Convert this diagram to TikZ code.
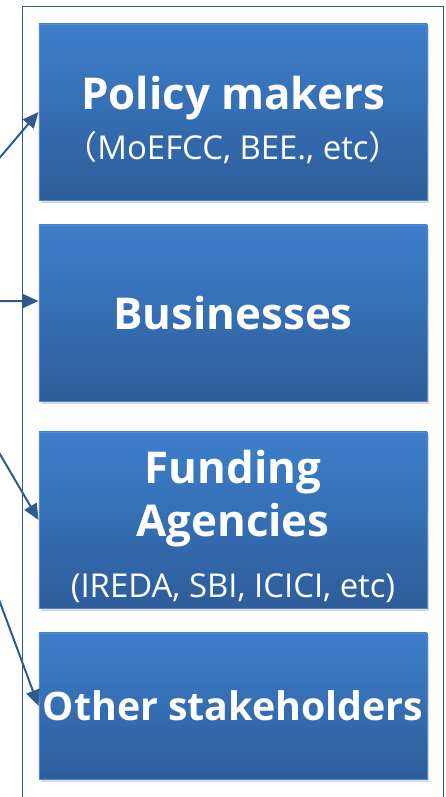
\documentclass[tikz,border=0pt]{standalone}
\usepackage{fontspec}
\setmainfont{Open Sans}
\newfontfamily\cjk{Noto Sans CJK SC}
\definecolor{cardtop}{RGB}{61,127,203}
\definecolor{cardbot}{RGB}{45,93,155}
\definecolor{cardedge}{RGB}{88,138,198}
\definecolor{linkblue}{RGB}{48,90,142}
\definecolor{frameblue}{RGB}{52,86,132}
\usetikzlibrary{arrows.meta, shadows}

\begin{document}
\begin{tikzpicture}[
        outer/.style={
            draw=frameblue,
            line width=1.4pt
          },
        card/.style={
            draw=cardedge,
            line width=0.6pt,
            top color=cardtop,
            bottom color=cardbot,
            minimum width=10.27cm,
            inner xsep=0pt,
            text=white,
            align=center,
            font=\fontsize{33}{41}\selectfont\bfseries,
            drop shadow={opacity=0.3, shadow xshift=1.5pt, shadow yshift=-2.5pt}
          },
        arr/.style={-{Triangle[length=12pt, width=10.5pt]}, linkblue, line width=1.5pt}
      ]
      \useasboundingbox (0,0) rectangle (11.80,21.087);
      \clip (0,0) rectangle (11.80,21.087);

      % frame round the four groups, open at the bottom
      \draw[outer] (0.595,-0.3) -- (0.595,20.915) -- (11.734,20.915) -- (11.734,-0.3);

      \node[card, minimum height=4.657cm] (policy) at (6.165,18.124)
        {\rule{0pt}{37pt}Policy makers\\[-4pt]{\fontsize{24.75}{30}\selectfont\mdseries{\cjk （}MoEFCC, BEE., etc{\cjk ）}}};
      \node[card, minimum height=4.657cm] (business) at (6.165,12.806) {Businesses};
      \node[card, minimum height=4.657cm] (funding) at (6.165,7.329)
        {\rule{0pt}{35pt}Funding\\[-1pt]Agencies\\[5pt]{\fontsize{24.75}{30}\selectfont\mdseries (IREDA, SBI, ICICI, etc)}};
      \node[card, minimum height=3.863cm, font=\fontsize{29.6}{37}\selectfont\bfseries] (others) at (6.165,2.408) {Other stakeholders};

      % links coming in from the left
      \coordinate (src1) at (-0.53,16.30);
      \coordinate (src2) at (-0.53,13.123);
      \coordinate (src3) at (-0.53,9.975);
      \coordinate (src4) at (-0.53,6.575);

      \draw[arr] (src1) -- (policy.west);
      \draw[arr] (src2) -- ([yshift=9pt]business.west);
      \draw[arr] (src3) -- (funding.west);
      \draw[arr] (src4) -- (others.west);
    \end{tikzpicture}
\end{document}
